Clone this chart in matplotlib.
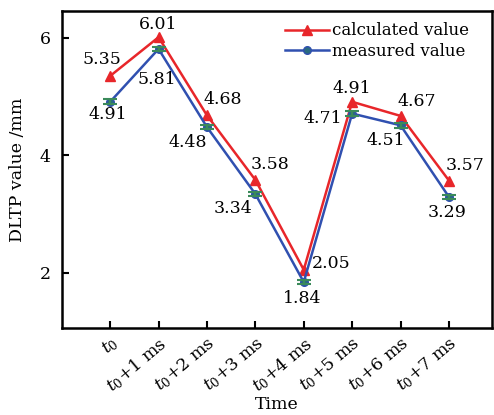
import matplotlib
matplotlib.use("Agg")
import matplotlib.pyplot as plt
import numpy as np

categories = [r"$t_0$", r"$t_0$+1 ms", r"$t_0$+2 ms", r"$t_0$+3 ms",
              r"$t_0$+4 ms", r"$t_0$+5 ms", r"$t_0$+6 ms", r"$t_0$+7 ms"]
calculated = [5.35, 6.01, 4.68, 3.58, 2.05, 4.91, 4.67, 3.57]
measured = [4.91, 5.81, 4.48, 3.34, 1.84, 4.71, 4.51, 3.29]
measured_err = [0.04, 0.04, 0.04, 0.04, 0.04, 0.04, 0.04, 0.04]

calc_offsets = [(-8, 16), (0, 13), (16, 16), (15, 15), (27, 6), (0, 13), (16, 14), (16, 15)]
meas_offsets = [(-2, -13), (-2, -31), (-19, -15), (-22, -14), (-2, -16), (-29, -5), (-15, -15), (-2, -16)]

plt.rcParams['font.family'] = ['DejaVu Serif']
plt.rcParams['mathtext.fontset'] = 'dejavuserif'

fig = plt.figure(figsize=(4.94, 4.15), dpi=100)
ax = fig.add_axes([0.125, 0.209, 0.87, 0.765])

x = np.arange(len(categories))
red = '#e8262a'
blue = '#3050b0'
ax.plot(x, calculated, color=red, lw=1.8, marker='^', ms=7, label='calculated value', zorder=3)
ax.plot(x, measured, color=blue, lw=1.8, marker='o', ms=5.5, mfc='#2a6a80', mec=blue,
        label='measured value', zorder=3)
ax.errorbar(x, measured, yerr=measured_err, fmt='none', ecolor='#3a8a5a', elinewidth=1.5,
            capsize=5, capthick=1.5, zorder=4)

fs = 12.5
for xi, v, off in zip(x, calculated, calc_offsets):
    ax.annotate(f"{v:.2f}", (xi, v), xytext=off, textcoords='offset pixels',
                ha='center', va='center', fontsize=fs)
for xi, v, off in zip(x, measured, meas_offsets):
    ax.annotate(f"{v:.2f}", (xi, v), xytext=off, textcoords='offset pixels',
                ha='center', va='center', fontsize=fs)

ax.set_xlim(-1, 7.88)
ax.set_ylim(1.054, 6.46)
ax.set_yticks([2, 4, 6])
ax.set_xticks(x)
ax.set_xticklabels(categories, rotation=40, ha='right', rotation_mode='anchor', fontsize=fs)
ax.tick_params(axis='both', direction='in', length=5, width=1.5, labelsize=fs)
ax.tick_params(axis='y', pad=8)
ax.tick_params(axis='x', pad=4)
for s in ax.spines.values():
    s.set_linewidth(1.8)

ax.set_ylabel('DLTP value /mm', fontsize=fs, labelpad=10)
ax.set_xlabel('Time', fontsize=fs, labelpad=0)

ax.legend(loc='upper right', frameon=False, fontsize=12, handlelength=2.6,
          handletextpad=0.2, borderaxespad=0.3, labelspacing=0.2,
          bbox_to_anchor=(0.975, 1.0))

fig.savefig('out.png', dpi=100)
